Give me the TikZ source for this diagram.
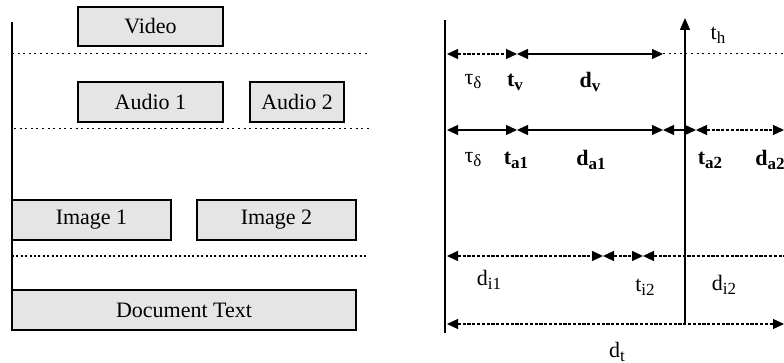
\documentclass[tikz,border=0pt]{standalone}
\usepackage{fontspec}
\setmainfont{Liberation Serif}
\usetikzlibrary{arrows.meta}
\newcommand\lsub[1]{\raisebox{-0.4ex}{\fontsize{8.5}{9}\selectfont #1}}
\tikzset{
  box/.style={draw=black, line width=0.6pt, fill=black!10, inner sep=0pt, font=\fontsize{11}{13}\selectfont},
  lbl/.style={inner sep=0pt, font=\fontsize{11}{13}\selectfont},
  sep/.style={line width=0.5pt, dash pattern=on 1pt off 1.8pt},
  axisline/.style={line width=0.7pt},
  tip/.tip={Triangle[length=5.5pt,width=5pt]},
  dim/.style={line width=0.6pt, tip-tip},
  dimdot/.style={dim, dash pattern=on 1.6pt off 0.8pt},
}
\begin{document}
\begin{tikzpicture}[x=0.5pt,y=-0.5pt]
\useasboundingbox (0,0) rectangle (784,363);
% ---------------- left panel ----------------
\coordinate (lt) at (12,22);
\coordinate (lb) at (12,290);
\draw[axisline] (lt) -- (lb);
\node[box, minimum width=72.5pt, minimum height=19.5pt] (video) at (150.5,26.5) {Video};
\node[box, minimum width=72.5pt, minimum height=20pt] (audio1) at (150.5,102) {Audio 1};
\node[box, minimum width=47pt, minimum height=20pt] (audio2) at (297,102) {Audio 2};
\node[box, minimum width=79.5pt, minimum height=20pt] (image1) at (91.5,220) {Image 1};
\node[box, minimum width=79.5pt, minimum height=20pt] (image2) at (276.5,220) {Image 2};
\node[box, minimum width=172pt, minimum height=20pt] (doc) at (184,310) {Document Text};
\coordinate (s1a) at (12,54);  \coordinate (s1b) at (368,54);
\coordinate (s2a) at (14,129); \coordinate (s2b) at (370,129);
\coordinate (s3a) at (12,256); \coordinate (s3b) at (368,256);
\draw[sep] (s1a) -- (s1b);
\draw[sep] (s2a) -- (s2b);
\draw[line width=0.7pt, dash pattern=on 1pt off 1.2pt] (s3a) -- (s3b);
% ---------------- right panel ----------------
\coordinate (rt) at (445,20);
\coordinate (rb) at (445,333);
\draw[axisline] (rt) -- (rb);
\coordinate (hb) at (685,325);
\coordinate (ht) at (685,18);
\draw[axisline, -{Triangle[length=6pt,width=5pt]}] (hb) -- (ht);
\node[lbl] (th) at (718,35) {t\lsub{h}};
% row 1
\coordinate (a1) at (447,54); \coordinate (a2) at (517,54);
\coordinate (a3) at (663,54); \coordinate (a4) at (784,54);
\draw[dimdot] (a1) -- (a2);
\draw[dim] (a2) -- (a3);
\draw[sep] (a3) -- (a4);
\node[lbl] (tau1) at (473,82) {τ\lsub{δ}};
\node[lbl] (tv) at (515,82) {\textbf{t\lsub{v}}};
\node[lbl] (dv) at (590,82) {\textbf{d\lsub{v}}};
% row 2
\coordinate (b1) at (447,130); \coordinate (b2) at (517,130);
\coordinate (b3) at (663,130); \coordinate (b4) at (696,130);
\coordinate (b5) at (784,130);
\draw[dim] (b1) -- (b2);
\draw[dim] (b2) -- (b3);
\draw[dim] (b3) -- (b4);
\draw[dimdot] (b4) -- (b5);
\node[lbl] (tau2) at (473,160) {τ\lsub{δ}};
\node[lbl] (ta1) at (516,160) {\textbf{t\lsub{a1}}};
\node[lbl] (da1) at (591,160) {\textbf{d\lsub{a1}}};
\node[lbl] (ta2) at (710,160) {\textbf{t\lsub{a2}}};
\node[lbl] (da2) at (770,160) {\textbf{d\lsub{a2}}};
% row 3
\coordinate (c1) at (447,256); \coordinate (c2) at (603,256);
\coordinate (c3) at (643,256); \coordinate (c4) at (784,256);
\draw[dimdot] (c1) -- (c2);
\draw[dimdot] (c2) -- (c3);
\draw[line width=0.6pt, dash pattern=on 1.6pt off 0.8pt, tip-] (c3) -- (c4);
\node[lbl] (di1) at (489,280) {d\lsub{i1}};
\node[lbl] (ti2) at (645,287) {t\lsub{i2}};
\node[lbl] (di2) at (724,285) {d\lsub{i2}};
% row 4
\coordinate (d1) at (447,324); \coordinate (d2) at (784,324);
\draw[dimdot] (d1) -- (d2);
\node[lbl] (dt) at (617,352) {d\lsub{t}};
\end{tikzpicture}
\end{document}
